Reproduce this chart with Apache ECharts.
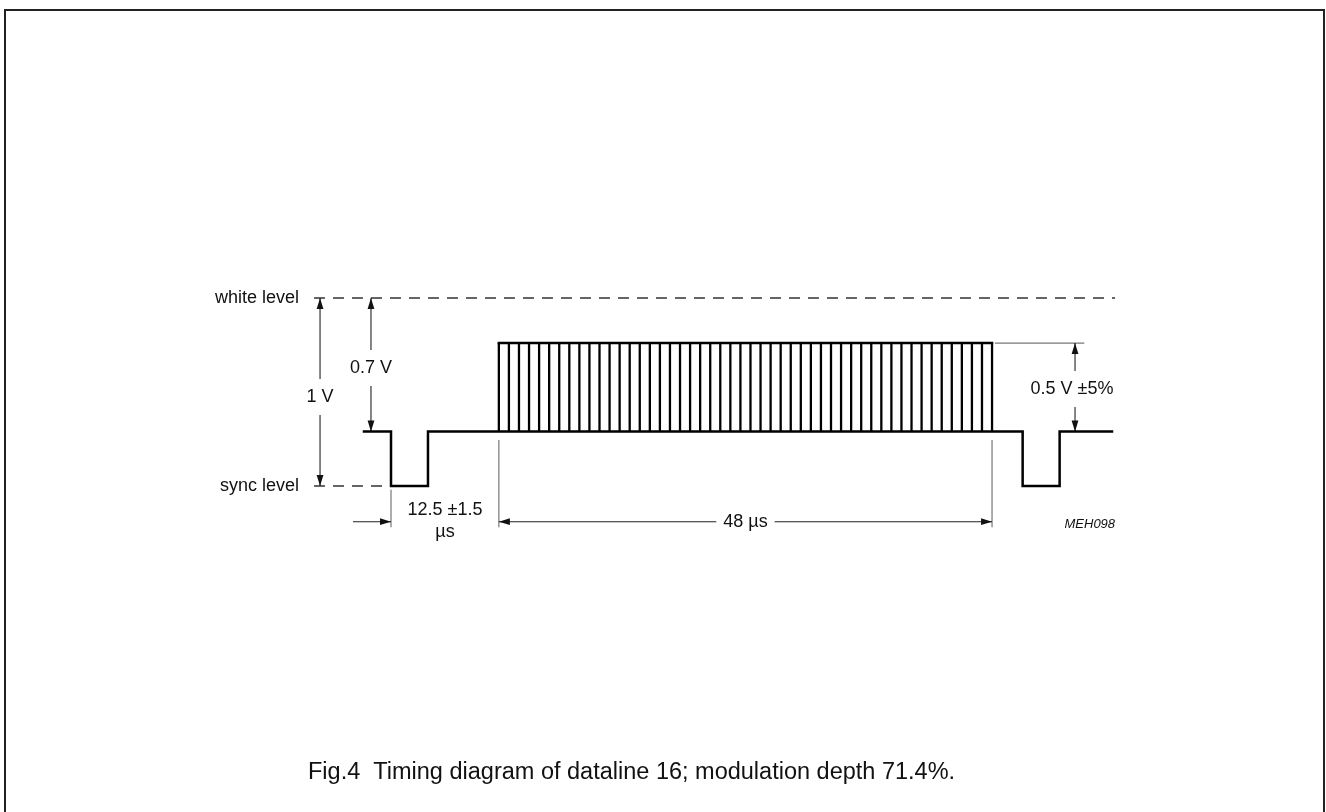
<!DOCTYPE html>
<html>
<head>
<meta charset="utf-8">
<script src="https://cdn.jsdelivr.net/npm/echarts@6/dist/echarts.min.js"></script>
<style>
  html, body { margin: 0; padding: 0; background: #fff; }
  #main { width: 1326px; height: 812px; }
</style>
</head>
<body>
<div id="main"></div>
<script>
// time in µs (0 = falling edge of first sync pulse), level in V (0 = sync level)
const syncLevel = 0;
const blackLevel = 0.29;
const burstTop = 0.76;
const whiteLevel = 1.0;

const waveTime  = [-2.63, 0, 0, 3.6, 3.6, 61.5, 61.5, 65.1, 65.1, 70.2];
const waveLevel = [0.29, 0.29, 0, 0, 0.29, 0.29, 0, 0, 0.29, 0.29];

// data pulse edges of dataline 16 (48 µs burst)
const burstTime = [10.5, 11.48, 12.46, 13.44, 14.42, 15.4, 16.38, 17.36, 18.34, 19.32,
  20.3, 21.28, 22.26, 23.24, 24.22, 25.2, 26.18, 27.16, 28.14, 29.12,
  30.1, 31.08, 32.06, 33.04, 34.02, 35.0, 35.98, 36.96, 37.94, 38.92,
  39.9, 40.88, 41.86, 42.84, 43.82, 44.8, 45.78, 46.76, 47.74, 48.72,
  49.7, 50.68, 51.66, 52.64, 53.62, 54.6, 55.58, 56.56, 57.54, 58.52];

const burstStart = burstTime[0];
const burstEnd = burstTime[burstTime.length - 1];

// dashed reference levels: x1, y1, x2, y2
const levelLines = [
  [-7.5, whiteLevel, 70.5, whiteLevel],
  [-7.5, syncLevel, 0, syncLevel]
];

// dimension arrows: x1, y1, x2, y2, head at start, head at end
const dimLines = [
  [-6.91, whiteLevel, -6.91, syncLevel, 1, 1],
  [-1.95, whiteLevel, -1.95, blackLevel, 1, 1],
  [66.6, burstTop, 66.6, blackLevel, 1, 1],
  [-3.7, -0.19, 0, -0.19, 0, 1],
  [burstStart, -0.19, burstEnd, -0.19, 1, 1]
];

// extension lines: x1, y1, x2, y2
const extLines = [
  [0, -0.02, 0, -0.22],
  [burstStart, 0.245, burstStart, -0.22],
  [burstEnd, 0.245, burstEnd, -0.22],
  [58.8, burstTop, 67.5, burstTop]
];

const labelText  = ['white level', 'sync level', '1 V', '0.7 V', '0.5 V \u00b15%', '12.5 \u00b11.5\n\u00b5s', '48 \u00b5s', 'MEH098'];
const labelX     = [-8.96, -8.96, -6.91, -1.95, 66.3, 5.26, 34.51, 70.5];
const labelY     = [whiteLevel, syncLevel, 0.473, 0.628, 0.516, -0.185, -0.19, -0.202];
const labelAlign = ['right', 'right', 'center', 'center', 'center', 'center', 'center', 'right'];

const caption = 'Fig.4  Timing diagram of dataline 16; modulation depth 71.4%.';

const FONT = '"Liberation Sans", Arial, Helvetica, sans-serif';

function arrowHead(tip, from) {
  const dx = tip[0] - from[0], dy = tip[1] - from[1];
  const len = Math.hypot(dx, dy) || 1;
  const ux = dx / len, uy = dy / len, L = 11, W = 3.4;
  const bx = tip[0] - ux * L, by = tip[1] - uy * L;
  return {
    type: 'polygon',
    shape: { points: [tip, [bx - uy * W, by + ux * W], [bx + uy * W, by - ux * W]] },
    style: { fill: '#111' }
  };
}

function segRender(style, withHeads) {
  return function (params, api) {
    const a = api.coord([api.value(0), api.value(1)]);
    const b = api.coord([api.value(2), api.value(3)]);
    const children = [{
      type: 'line',
      shape: { x1: a[0], y1: a[1], x2: b[0], y2: b[1] },
      style: style
    }];
    if (withHeads) {
      if (api.value(4)) children.push(arrowHead(a, b));
      if (api.value(5)) children.push(arrowHead(b, a));
    }
    return { type: 'group', children: children };
  };
}

const chart = echarts.init(document.getElementById('main'));

chart.setOption({
  animation: false,
  backgroundColor: '#fff',
  grid: { left: 288.3, right: 164.7, top: 204, bottom: 232 },
  xAxis: { type: 'value', min: -10, max: 75, show: false },
  yAxis: { type: 'value', min: -0.5, max: 1.5, show: false },
  graphic: [
    {
      type: 'rect',
      shape: { x: 5, y: 10, width: 1319, height: 900 },
      style: { fill: 'none', stroke: '#222', lineWidth: 2 },
      silent: true
    },
    {
      type: 'text',
      x: 308,
      y: 773,
      style: {
        text: caption,
        font: '23.5px ' + FONT,
        fill: '#111',
        verticalAlign: 'middle'
      },
      silent: true
    }
  ],
  series: [
    {
      name: 'levels',
      type: 'custom',
      silent: true,
      data: levelLines,
      renderItem: segRender({ stroke: '#333', lineWidth: 1.3, lineDash: [11, 8] }, false),
      z: 1
    },
    {
      name: 'extension',
      type: 'custom',
      silent: true,
      data: extLines,
      renderItem: segRender({ stroke: '#777', lineWidth: 1.2 }, false),
      z: 1
    },
    {
      name: 'dimensions',
      type: 'custom',
      silent: true,
      data: dimLines,
      renderItem: segRender({ stroke: '#222', lineWidth: 1.1 }, true),
      z: 2
    },
    {
      name: 'signal',
      type: 'line',
      silent: true,
      symbol: 'none',
      data: waveTime.map((t, i) => [t, waveLevel[i]]),
      lineStyle: { color: '#000', width: 2.5, join: 'miter', cap: 'square' },
      z: 3
    },
    {
      name: 'burst top',
      type: 'line',
      silent: true,
      symbol: 'none',
      data: [[burstStart, burstTop], [burstEnd, burstTop]],
      lineStyle: { color: '#000', width: 2.5, cap: 'square' },
      z: 3
    },
    {
      name: 'burst pulses',
      type: 'custom',
      silent: true,
      data: burstTime.map(t => [t, blackLevel, burstTop]),
      renderItem: function (params, api) {
        const a = api.coord([api.value(0), api.value(1)]);
        const b = api.coord([api.value(0), api.value(2)]);
        return {
          type: 'line',
          shape: { x1: a[0], y1: a[1], x2: b[0], y2: b[1] },
          style: { stroke: '#000', lineWidth: 2.3 }
        };
      },
      z: 3
    },
    {
      name: 'labels',
      type: 'custom',
      silent: true,
      data: labelX.map((x, i) => [x, labelY[i]]),
      renderItem: function (params, api) {
        const i = params.dataIndex;
        const p = api.coord([api.value(0), api.value(1)]);
        const isCode = labelText[i] === 'MEH098';
        const boxed = !isCode && labelAlign[i] === 'center';
        const style = {
          text: labelText[i],
          font: (isCode ? 'italic 13px ' : '18px ') + FONT,
          fill: '#111',
          align: labelAlign[i],
          verticalAlign: 'middle',
          lineHeight: 22
        };
        if (boxed) {
          style.backgroundColor = '#fff';
          style.padding = [7, 7, 7, 7];
        }
        return { type: 'text', x: p[0], y: p[1], style: style };
      },
      z: 5
    }
  ]
});
</script>
</body>
</html>
